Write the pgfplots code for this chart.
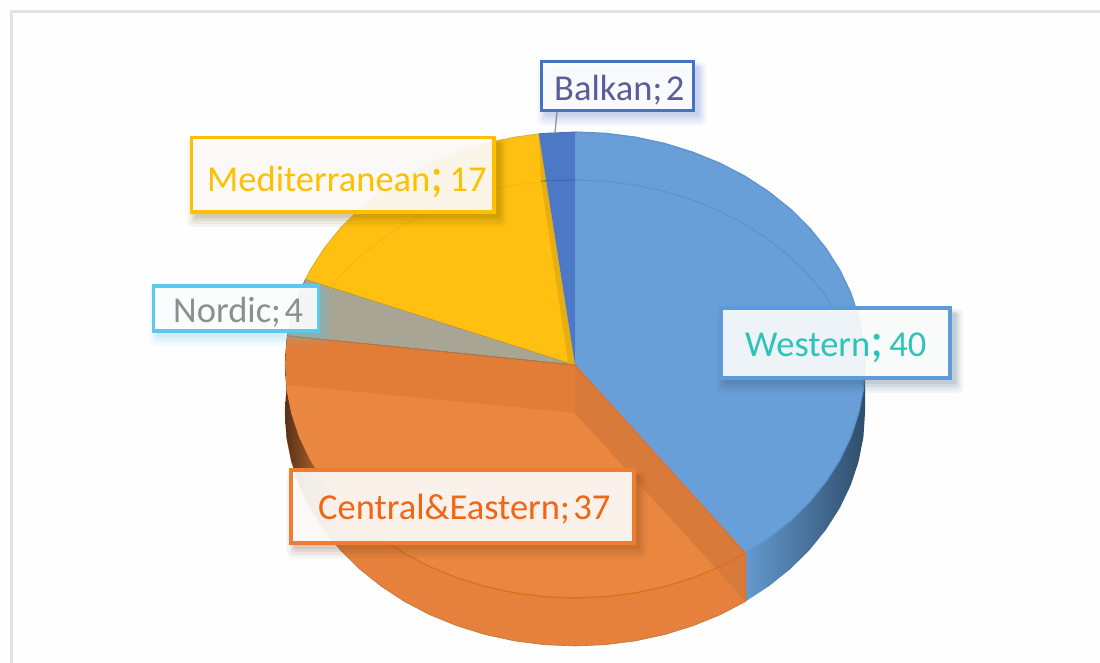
\documentclass[border=0pt]{standalone}
\usepackage{pgfplots}
\pgfplotsset{compat=1.18}
\usepackage{fontspec}
\setmainfont{Carlito}
\definecolor{pageBg}{HTML}{FEFEFE}
\definecolor{cWest}{HTML}{689FD8}
\definecolor{cWestB}{HTML}{5F9BD6}
\definecolor{cWestL}{HTML}{5D92CC}
\definecolor{cBalk}{HTML}{4C78C6}
\definecolor{cBalkB}{HTML}{4472C4}
\definecolor{cMed}{HTML}{FFC012}
\definecolor{cMedD}{HTML}{E8AE10}
\definecolor{cMedA}{HTML}{F2B60F}
\definecolor{cMedB}{HTML}{FFC000}
\definecolor{cNord}{HTML}{A8A595}
\definecolor{cNordB}{HTML}{5BC8EE}
\definecolor{cTop}{HTML}{E27D38}
\definecolor{cLight}{HTML}{E9863F}
\definecolor{cWall}{HTML}{E5813C}
\definecolor{cStrip}{HTML}{D87B3A}
\definecolor{cEdge}{HTML}{D9701F}
\definecolor{cOrB}{HTML}{ED7D31}
\definecolor{tWest}{HTML}{2CC4B8}
\definecolor{tBalk}{HTML}{5C5C98}
\definecolor{tNord}{HTML}{8E8E8E}
\definecolor{tCent}{HTML}{F26513}
\newcommand{\lf}{\fontsize{36.5}{40}\selectfont}
\newcommand{\bigsemi}{{\fontsize{50}{50}\selectfont;}}
\newcommand{\labelbox}[6]{% x1 y1 x2 y2 border shadow
  \fill[#6,opacity=.06,rounded corners=5pt] (axis cs:#1-4,#2+1) rectangle (axis cs:#3+13,#4+15);
  \fill[#6,opacity=.07,rounded corners=4pt] (axis cs:#1-1,#2+3) rectangle (axis cs:#3+10,#4+12);
  \fill[#6,opacity=.08,rounded corners=3pt] (axis cs:#1+1,#2+4) rectangle (axis cs:#3+8,#4+9);
  \fill[#6,opacity=.10,rounded corners=2pt] (axis cs:#1+3,#2+5) rectangle (axis cs:#3+6,#4+6);
  \fill[white,opacity=.90] (axis cs:#1,#2) rectangle (axis cs:#3,#4);
  \draw[#5,line width=3.2pt] (axis cs:#1,#2) rectangle (axis cs:#3,#4);
}
\begin{document}
\begin{tikzpicture}
\begin{axis}[hide axis, scale only axis, width=1100pt, height=663pt,
  xmin=0, xmax=1100, ymin=0, ymax=663, y dir=reverse]
% page
\addplot[fill=pageBg, draw=none] coordinates {(0,0) (1100,0) (1100,663) (0,663)} -- cycle;
% frame
\addplot[draw=black!11, line width=2.6pt] coordinates {(11.3,670) (11.3,11.3) (1110,11.3)};
% Western wall
\addplot[draw=none, left color=cWest!96!black, middle color=black!15!cWest!85!gray, right color=black!50!cWestB] coordinates {(865,365) (863.4,389.3) (858.6,413.4) (850.8,437) (839.9,459.8) (826.1,481.5) (809.6,502) (790.5,520.9) (769,538.1) (745.5,553.5) (745.5,601.5) (769,586.1) (790.5,568.9) (809.6,550) (826.1,529.5) (839.9,507.8) (850.8,485) (858.6,461.4) (863.4,437.3) (865,413)} -- cycle;
% Central wall
\addplot[fill=cWall, draw=cEdge!70!gray, line width=.6pt] coordinates {(745.5,553.5) (720,566.8) (692.9,577.8) (664.6,586.6) (635.3,592.9) (605.3,596.7) (575,598) (544.7,596.7) (514.7,592.9) (485.4,586.6) (457.1,577.8) (430,566.8) (404.5,553.5) (381,538.1) (359.5,520.9) (340.4,502) (323.9,481.5) (310.1,459.8) (299.2,437) (291.4,413.4) (286.6,389.3) (285,365) (286.6,340.7) (287.3,335.8) (287.3,383.8) (286.6,388.7) (285,413) (286.6,437.3) (291.4,461.4) (299.2,485) (310.1,507.8) (323.9,529.5) (340.4,550) (359.5,568.9) (381,586.1) (404.5,601.5) (430,614.8) (457.1,625.8) (485.4,634.6) (514.7,640.9) (544.7,644.7) (575,646) (605.3,644.7) (635.3,640.9) (664.6,634.6) (692.9,625.8) (720,614.8) (745.5,601.5)} -- cycle;
% Central wall, dark left part
\addplot[draw=none, left color=black!62!cWall, middle color=black!22!cWall, right color=cWall] coordinates {(287.3,335.8) (286.6,340.7) (285,365) (286.6,389.3) (291.4,413.4) (299.2,437) (310.1,459.8) (323.9,481.5) (340.4,502) (340.4,550) (323.9,529.5) (310.1,507.8) (299.2,485) (291.4,461.4) (286.6,437.3) (285,413) (286.6,388.7) (287.3,383.8)} -- cycle;
% Central top
\addplot[fill=cTop, draw=none] coordinates {(575,365) (745.5,553.5) (720,566.8) (692.9,577.8) (664.6,586.6) (635.3,592.9) (605.3,596.7) (575,598) (544.7,596.7) (514.7,592.9) (485.4,586.6) (457.1,577.8) (430,566.8) (404.5,553.5) (381,538.1) (359.5,520.9) (340.4,502) (323.9,481.5) (310.1,459.8) (299.2,437) (291.4,413.4) (286.6,389.3) (285,365) (286.6,340.7) (287.3,335.8)} -- cycle;
% Central top, inner lighter face
\addplot[fill=cLight, draw=none] coordinates {(287.3,385) (575,413) (717,569.5) (692.9,577.8) (664.6,586.6) (635.3,592.9) (605.3,596.7) (575,598) (544.7,596.7) (514.7,592.9) (485.4,586.6) (457.1,577.8) (430,566.8) (404.5,553.5) (381,538.1) (359.5,520.9) (340.4,502) (323.9,481.5) (310.1,459.8) (299.2,437) (291.4,413.4) (286.6,389.3)} -- cycle;
% strip along the Western edge
\addplot[fill=cStrip, draw=none] coordinates {(575,365) (745.5,553.5) (745.5,601.5) (717,569.5) (575,413)} -- cycle;
% front arc of the top face
\addplot[draw=cEdge, line width=1.2pt] coordinates {(745.5,553.5) (720,566.8) (692.9,577.8) (664.6,586.6) (635.3,592.9) (605.3,596.7) (575,598) (544.7,596.7) (514.7,592.9) (485.4,586.6) (457.1,577.8) (430,566.8) (404.5,553.5) (381,538.1)};
% Western top
\addplot[fill=cWest, draw=none] coordinates {(575,365) (575,132) (605.3,133.3) (635.3,137.1) (664.6,143.4) (692.9,152.2) (720,163.2) (745.5,176.5) (769,191.9) (790.5,209.1) (809.6,228) (826.1,248.5) (839.9,270.2) (850.8,293) (858.6,316.6) (863.4,340.7) (865,365) (863.4,389.3) (858.6,413.4) (850.8,437) (839.9,459.8) (826.1,481.5) (809.6,502) (790.5,520.9) (769,538.1) (745.5,553.5)} -- cycle;
\addplot[draw=cWestL, line width=1.2pt] coordinates {(575,132) (605.3,133.3) (635.3,137.1) (664.6,143.4) (692.9,152.2) (720,163.2) (745.5,176.5) (769,191.9) (790.5,209.1) (809.6,228) (826.1,248.5) (839.9,270.2) (850.8,293) (858.6,316.6) (863.4,340.7) (865,365) (863.4,389.3) (858.6,413.4) (850.8,437) (839.9,459.8) (826.1,481.5) (809.6,502) (790.5,520.9) (769,538.1) (745.5,553.5)};
\addplot[draw=cWestL, line width=1pt] coordinates {(575,180) (605.3,181.3) (635.3,185.1) (664.6,191.4) (692.9,200.2) (720,211.2) (745.5,224.5) (769,239.9) (790.5,257.1) (809.6,276) (826.1,296.5) (839.9,318.2) (850.8,341) (858.6,364.6) (863.4,388.7)};
% Nordic
\addplot[fill=cNord, draw=black!45!cNord, line width=.5pt] coordinates {(575,365) (287.3,335.8) (291.4,316.6) (299.2,293) (305.4,279.2)} -- cycle;
% Mediterranean
\addplot[fill=cMed, draw=none] coordinates {(575,365) (305.4,279.2) (310.1,270.2) (323.9,248.5) (340.4,228) (359.5,209.1) (381,191.9) (404.5,176.5) (430,163.2) (457.1,152.2) (485.4,143.4) (514.7,137.1) (538.7,133.8)} -- cycle;
\addplot[fill=cMedD, draw=none] coordinates {(538.7,133.8) (575,365) (568.5,365) (541,181)} -- cycle;
\addplot[draw=cMedA, line width=.8pt] coordinates {(541,181.8) (514.7,185.1) (485.4,191.4) (457.1,200.2) (430,211.2) (404.5,224.5) (381,239.9) (359.5,257.1) (340.4,276) (330,289)};
\addplot[draw=cMedD!80!gray, line width=.6pt] coordinates {(305.4,279.2) (575,365)};
\addplot[draw=cMedD!80!gray, line width=.6pt] coordinates {(305.4,279.2) (310.1,270.2) (323.9,248.5) (340.4,228) (359.5,209.1) (381,191.9) (404.5,176.5) (430,163.2) (457.1,152.2) (485.4,143.4) (514.7,137.1) (538.7,133.8)};
% Balkan
\addplot[fill=cBalk, draw=none] coordinates {(575,365) (538.7,133.8) (544.7,133.3) (575,132)} -- cycle;
\addplot[draw=black!15!cBalk, line width=.8pt] coordinates {(541,181) (575,180)};
\addplot[draw=black!10!cBalk, line width=.8pt] coordinates {(538.7,133.8) (544.7,133.3) (575,132)};
% edge Western / Central
\addplot[draw=tCent!85!cOrB, line width=1pt] coordinates {(575,365) (745.5,553.5) (745.5,601.5)};
\addplot[draw=cEdge!70!gray, line width=.7pt] coordinates {(287.3,335.8) (575,365)};
% leader
\addplot[draw=black!40, line width=1.3pt] coordinates {(557,112) (555,133)};
% labels
\labelbox{541.5}{61.5}{693.5}{110.5}{cBalkB}{cBalkB}
\node[anchor=base west,text=tBalk,font=\lf,inner sep=0pt] at (axis cs:554,101) {Balkan;\hspace{.1em}2};
\labelbox{191.5}{137.5}{494}{212}{cMedB}{black!60!cMedB}
\node[anchor=base west,text=cMedB,font=\lf,inner sep=0pt] at (axis cs:207,192) {Mediterranean\bigsemi\hspace{.16em}17};
\labelbox{153.5}{286}{318.5}{331}{cNordB}{cNordB}
\node[anchor=base west,text=tNord,font=\lf,inner sep=0pt] at (axis cs:173,322) {Nordic;\hspace{.1em}4};
\labelbox{721}{308}{950}{378}{cWestB}{black!50!cWestB}
\node[anchor=base west,text=tWest,font=\lf,inner sep=0pt] at (axis cs:745,356) {Western\bigsemi\hspace{.16em}40};
\labelbox{291}{470}{634}{543}{cOrB}{black!50!cOrB}
\node[anchor=base west,text=tCent,font=\lf,inner sep=0pt] at (axis cs:318,519) {Central\&Eastern;\hspace{.1em}37};
\end{axis}
\end{tikzpicture}
\end{document}
